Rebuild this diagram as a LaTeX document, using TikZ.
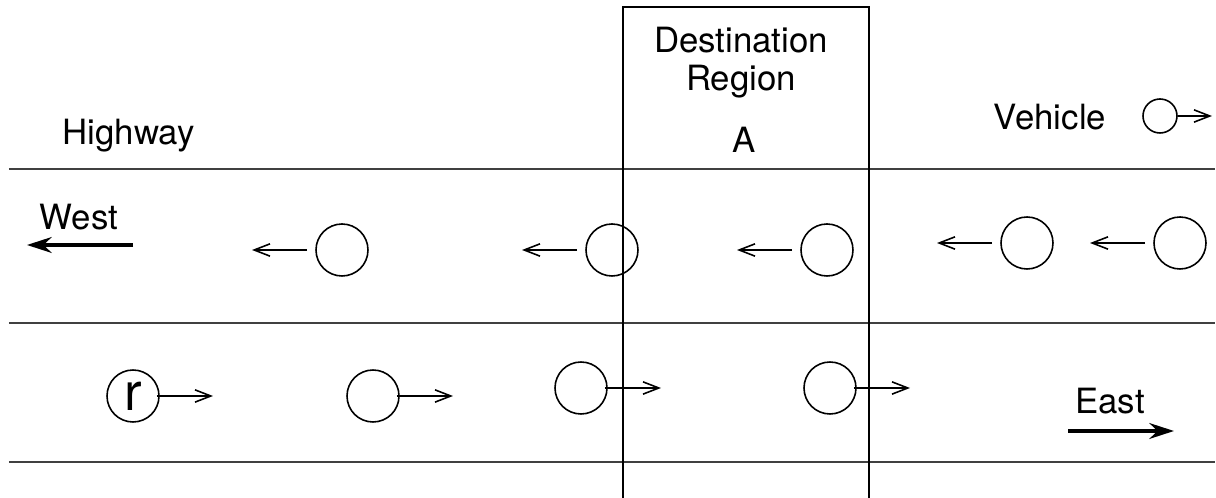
\documentclass[tikz,border=0pt]{standalone}
\usepackage{fontspec}
\setmainfont{TeX Gyre Heros}
\usetikzlibrary{arrows.meta}

\begin{document}
\begin{tikzpicture}[
  font=\fontsize{19.8}{22}\selectfont,
  car/.style={circle, draw, line width=0.9pt, inner sep=0pt, minimum size=1.04cm},
  move/.style={line width=0.9pt, -{Straight Barb[length=9pt,width=7pt,line width=0.9pt]}},
  heading/.style={line width=1.8pt, -{Stealth[length=14pt,width=9pt]}},
  lane/.style={line width=1pt, black!75},
  ]
  \useasboundingbox (0,0) rectangle (24.32,9.96);

  % 车道分隔线
  \foreach \y in {6.58, 3.5, 0.72}
    \draw[lane] (0.18,\y) -- (24.3,\y);

  % 目的区域 A
  \draw[line width=0.9pt] (12.46,0) |- (17.38,9.82) -- (17.38,0);
  \node[anchor=base] (dest) at (14.82,8.9) {Destination};
  \node[anchor=base] (region) at (14.82,8.14) {Region};
  \node[anchor=base] (regA) at (14.88,6.9) {A};

  % 标注文字
  \node[anchor=base] (hwy) at (2.57,7.06) {Highway};
  \node[anchor=base] (veh) at (21.0,7.36) {Vehicle};
  \node[anchor=base] (west) at (1.58,5.36) {West};
  \node[anchor=base] (east) at (22.2,1.68) {East};

  % 图例
  \node[car, minimum size=0.68cm] (leg) at (23.2,7.64) {};
  \coordinate (legend tip) at (24.24,7.64);
  \draw[move] (leg.east) -- (legend tip);

  % 行驶方向
  \coordinate (w0) at (2.66,5.06);
  \coordinate (w1) at (0.54,5.06);
  \draw[heading] (w0) -- (w1);
  \coordinate (e0) at (21.36,1.34);
  \coordinate (e1) at (23.48,1.34);
  \draw[heading] (e0) -- (e1);

  % 向西行驶的车辆
  % \n---编号, (\x,\y)---圆心
  \foreach \n/\x/\y in {1/6.84/4.96, 2/12.24/4.96, 3/16.54/4.96, 4/20.54/5.1, 5/23.6/5.1}
  {
    \node[car] (wc\n) at (\x,\y) {};
    \coordinate (wt\n) at (\x-1.8,\y);
    \draw[move, shorten <=0.16cm] (wc\n.west) -- (wt\n);
  }

  % 向东行驶的车辆 (第一辆标 r)
  \foreach \n/\x/\y/\lbl in {1/2.66/2.04/r, 2/7.46/2.04/, 3/11.62/2.2/, 4/16.6/2.2/}
  {
    \node[car, font=\fontsize{30}{30}\selectfont] (ec\n) at (\x,\y) {\lbl};
    \coordinate (et\n) at (\x+1.6,\y);
    \draw[move, shorten <=-0.06cm] (ec\n.east) -- (et\n);
  }
\end{tikzpicture}
\end{document}
